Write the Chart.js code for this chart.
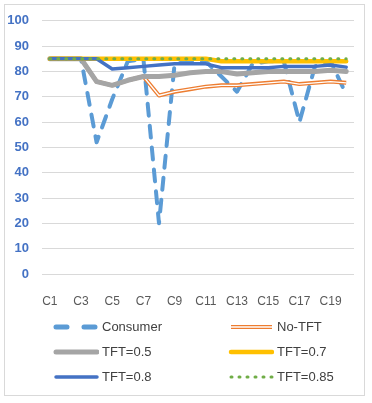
<!DOCTYPE html>
<html>
<head>
<meta charset="utf-8">
<script src="https://cdn.jsdelivr.net/npm/chart.js@4.4.0/dist/chart.umd.min.js"></script>
<style>
  html, body { margin: 0; padding: 0; background: #fff; }
  #frame { position: absolute; left: 4px; top: 4px; width: 359px; height: 390px; border: 1px solid #d9d9d9; }
  #chartBox { position: absolute; left: 0; top: 0; width: 372px; height: 310px; }
  #legend { position: absolute; left: 0; top: 0; width: 372px; height: 403px; font-family: "Liberation Sans", Arial, sans-serif; font-size: 13px; color: #404040; }
  .item { position: absolute; height: 16px; line-height: 16px; white-space: nowrap; }
  .item canvas { position: absolute; left: 0; top: 3px; }
  .item span { position: absolute; left: 49px; top: 0; }
</style>
</head>
<body>
<div id="frame"></div>
<div id="chartBox"><canvas id="lineChart" width="372" height="310"></canvas></div>
<div id="legend"></div>
<script>
const categories = ["C1","C2","C3","C4","C5","C6","C7","C8","C9","C10","C11","C12","C13","C14","C15","C16","C17","C18","C19","C20"];

const consumer = [85, 85, 85, 52, 69, 84, 85, 20, 83, 84, 84, 78, 72, 83, 84, 84, 60, 82, 84, 71];
const noTft    = [85, 85, 85, 76, 74.5, 76.5, 78, 70.5, 72, 73, 74, 74.5, 74.5, 75, 75.5, 76, 75, 75.5, 76, 75.5];
const tft05    = [85, 85, 85, 76, 74.5, 76.5, 78, 78, 78.5, 79.5, 80, 80, 79, 79.5, 80, 80, 80, 80, 80.5, 80];
const tft07    = [85, 85, 85, 85, 85, 85, 85, 85, 85, 85, 85, 84, 84, 84, 84, 84, 84, 84, 84, 84];
const tft08    = [85, 85, 85, 85, 81, 81.5, 82, 82.5, 83, 83, 83, 81.5, 81.5, 81.5, 81.5, 82, 82, 82, 82.5, 81.7];
const tft085   = [85, 85, 85, 85, 85, 85, 85, 85, 85, 85, 85, 85, 85, 85, 85, 85, 85, 85, 85, 85];

const yTicks = [0, 10, 20, 30, 40, 50, 60, 70, 80, 90, 100];

// legend entries: [label, column, row, style]
const series = [
  {label: "Consumer", data: consumer, color: "#5B9BD5", width: 4, dash: [12, 10], cap: "round", order: 7},
  {label: "No-TFT", data: noTft, color: "#ED7D31", width: 4, dash: [], cap: "butt", order: 6, inner: true},
  {label: "TFT=0.5", data: tft05, color: "#A5A5A5", width: 5, dash: [], cap: "round", order: 4},
  {label: "TFT=0.7", data: tft07, color: "#FFC000", width: 4.5, dash: [], cap: "round", order: 3},
  {label: "TFT=0.8", data: tft08, color: "#4472C4", width: 3.5, dash: [], cap: "round", order: 2},
  {label: "TFT=0.85", data: tft085, color: "#70AD47", width: 3, dash: [1, 7], cap: "round", order: 1}
];

const datasets = [];
series.forEach(s => {
  datasets.push({
    label: s.label,
    data: s.data,
    borderColor: s.color,
    borderWidth: s.width,
    borderDash: s.dash,
    borderCapStyle: s.cap,
    borderJoinStyle: "round",
    pointRadius: 0,
    tension: 0,
    fill: false,
    order: s.order
  });
  if (s.inner) {
    datasets.push({
      label: s.label + "-inner",
      data: s.data,
      borderColor: "#ffffff",
      borderWidth: 1.3,
      borderJoinStyle: "round",
      pointRadius: 0,
      tension: 0,
      fill: false,
      order: s.order - 0.5
    });
  }
});

const canvasElement = document.getElementById("lineChart");
const lineChart = new Chart(canvasElement, {
  type: "line",
  data: { labels: categories, datasets: datasets },
  options: {
    responsive: false,
    animation: false,
    layout: { padding: { top: 20, right: 18, left: 0, bottom: 0 } },
    plugins: { legend: { display: false }, tooltip: { enabled: false } },
    scales: {
      x: {
        offset: true,
        grid: { display: false },
        border: { display: false },
        ticks: {
          autoSkip: false,
          maxRotation: 0,
          padding: 12,
          color: "#595959",
          font: { family: "Liberation Sans", size: 12 },
          callback: function(value, index) { return index % 2 === 0 ? this.getLabelForValue(value) : ""; }
        },
        afterFit: scale => { scale.height = 36; }
      },
      y: {
        min: 0,
        max: 100,
        afterBuildTicks: scale => { scale.ticks = yTicks.map(v => ({value: v})); },
        grid: { color: "#d9d9d9", lineWidth: 1, drawTicks: false },
        border: { display: false },
        ticks: {
          padding: 13,
          color: "#4472C4",
          font: { family: "Liberation Sans", size: 13, weight: "bold" }
        },
        afterFit: scale => { scale.width = 42; }
      }
    }
  }
});

// legend, two columns, drawn from the series list
const legendBox = document.getElementById("legend");
const colX = [53, 228];
const rowY = [319, 344, 369];
series.forEach((s, i) => {
  const item = document.createElement("div");
  item.className = "item";
  item.style.left = colX[i % 2] + "px";
  item.style.top = rowY[Math.floor(i / 2)] + "px";
  const sw = document.createElement("canvas");
  sw.width = 46; sw.height = 10;
  const ctx = sw.getContext("2d");
  ctx.lineCap = s.cap;
  ctx.strokeStyle = s.color;
  ctx.lineWidth = s.width + (s.label === "Consumer" ? 1 : 0);
  ctx.setLineDash(s.label === "Consumer" ? [11, 17] : s.dash);
  ctx.beginPath();
  ctx.moveTo(3, 5); ctx.lineTo(44, 5);
  ctx.stroke();
  if (s.inner) {
    ctx.strokeStyle = "#ffffff";
    ctx.lineWidth = 1.3;
    ctx.beginPath();
    ctx.moveTo(3, 5); ctx.lineTo(44, 5);
    ctx.stroke();
  }
  const txt = document.createElement("span");
  txt.textContent = s.label;
  item.appendChild(sw);
  item.appendChild(txt);
  legendBox.appendChild(item);
});
</script>
</body>
</html>
